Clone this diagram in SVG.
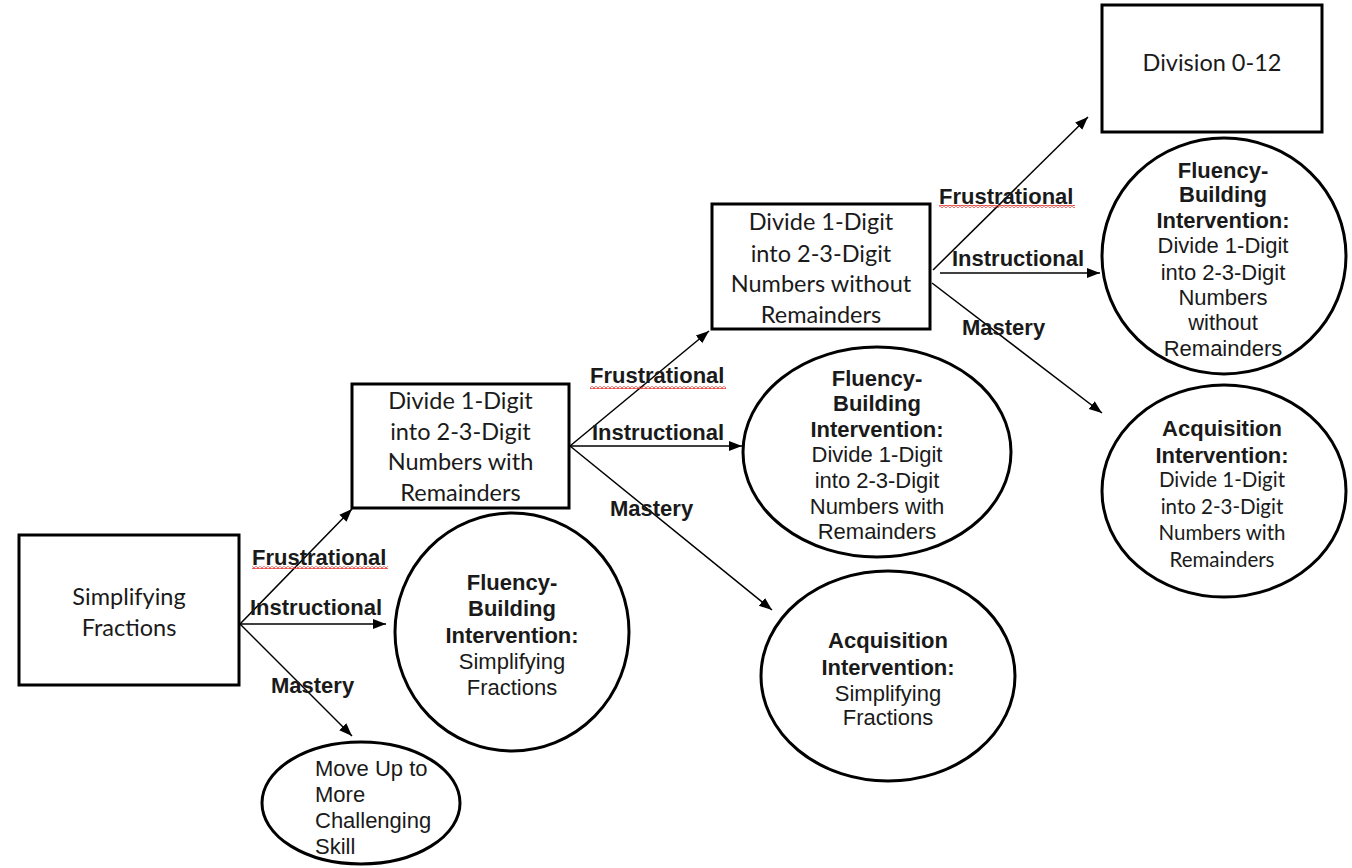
<svg xmlns="http://www.w3.org/2000/svg" width="1352" height="868" viewBox="0 0 1352 868">
<style>
.box{fill:#fff;stroke:#000;stroke-width:3}
.ell{fill:#fff;stroke:#000;stroke-width:3}
.bt{font-family:Lato,"Liberation Sans",sans-serif;font-size:23.5px;fill:#1a1a1a;text-anchor:middle}
.ct{font-family:"Liberation Sans",Arial,sans-serif;font-size:22px;fill:#1a1a1a;text-anchor:middle}
.cb{font-family:"Liberation Sans",Arial,sans-serif;font-size:22px;font-weight:bold;fill:#1a1a1a;text-anchor:middle}
.cl{font-family:Lato,"Liberation Sans",sans-serif;font-size:20.5px;fill:#1a1a1a;text-anchor:middle}
.lbl{font-family:"Liberation Sans",Arial,sans-serif;font-size:22px;font-weight:bold;fill:#1a1a1a}
.con{stroke:#000;stroke-width:1.5;fill:none;marker-end:url(#arr)}
.sq{fill:url(#squig)}
</style>
<defs>
<marker id="arr" markerUnits="userSpaceOnUse" markerWidth="14" markerHeight="12" refX="13" refY="6" orient="auto">
<path d="M0,1 L13,6 L0,11 Z" fill="#000"/>
</marker>
<pattern id="squig" patternUnits="userSpaceOnUse" x="0" y="0" width="4" height="3">
<path d="M0,2.4 L2,0.6 L4,2.4" fill="none" stroke="#e8302a" stroke-width="1.1"/>
</pattern>
</defs>
<rect width="1352" height="868" fill="#fff"/>

<g id="connectors">
<line class="con" x1="240" y1="624" x2="352" y2="509"/>
<line class="con" x1="240" y1="624" x2="386" y2="624"/>
<line class="con" x1="240" y1="624" x2="352" y2="736"/>
<line class="con" x1="570" y1="446" x2="709" y2="331"/>
<line class="con" x1="570" y1="446" x2="742" y2="446"/>
<line class="con" x1="570" y1="446" x2="772" y2="610"/>
<line class="con" x1="933" y1="270" x2="1088" y2="117"/>
<line class="con" x1="940" y1="273" x2="1100" y2="273"/>
<line class="con" x1="932" y1="283" x2="1102" y2="413"/>
</g>

<g id="labels">
<text class="lbl" x="252" y="565">Frustrational</text>
<rect class="sq" x="252" y="566" width="136" height="3"/>
<text class="lbl" x="250" y="615">Instructional</text>
<text class="lbl" x="271" y="693">Mastery</text>
<text class="lbl" x="590" y="383">Frustrational</text>
<rect class="sq" x="590" y="386" width="136" height="3"/>
<text class="lbl" x="592" y="440">Instructional</text>
<text class="lbl" x="610" y="516">Mastery</text>
<text class="lbl" x="939" y="204">Frustrational</text>
<rect class="sq" x="939" y="205" width="136" height="3"/>
<text class="lbl" x="952" y="266">Instructional</text>
<text class="lbl" x="962" y="335">Mastery</text>
</g>

<g id="simplifying-fractions">
<rect class="box" x="19" y="535" width="220" height="150"/>
<text class="bt" x="129" y="605">Simplifying</text>
<text class="bt" x="129" y="636">Fractions</text>
</g>

<g id="divide-with-remainders">
<rect class="box" x="352" y="384" width="217" height="124"/>
<text class="bt" x="460.5" y="409">Divide 1-Digit</text>
<text class="bt" x="460.5" y="440">into 2-3-Digit</text>
<text class="bt" x="460.5" y="470">Numbers with</text>
<text class="bt" x="460.5" y="501">Remainders</text>
</g>

<g id="divide-without-remainders">
<rect class="box" x="712" y="204" width="218" height="125"/>
<text class="bt" x="821" y="230">Divide 1-Digit</text>
<text class="bt" x="821" y="262">into 2-3-Digit</text>
<text class="bt" x="821" y="292">Numbers without</text>
<text class="bt" x="821" y="323">Remainders</text>
</g>

<g id="division-0-12">
<rect class="box" x="1102" y="5" width="220" height="127"/>
<text class="bt" x="1212" y="71">Division 0-12</text>
</g>

<g id="move-up">
<ellipse class="ell" cx="361" cy="803" rx="99" ry="61"/>
<text class="ct" x="315" y="776" style="text-anchor:start">Move Up to</text>
<text class="ct" x="315" y="802" style="text-anchor:start">More</text>
<text class="ct" x="315" y="828" style="text-anchor:start">Challenging</text>
<text class="ct" x="315" y="854" style="text-anchor:start">Skill</text>
</g>

<g id="fluency-simplifying">
<ellipse class="ell" cx="512" cy="632" rx="117" ry="119"/>
<text class="cb" x="512" y="590">Fluency-</text>
<text class="cb" x="512" y="616">Building</text>
<text class="cb" x="512" y="643">Intervention:</text>
<text class="ct" x="512" y="669">Simplifying</text>
<text class="ct" x="512" y="695">Fractions</text>
</g>

<g id="fluency-with-remainders">
<ellipse class="ell" cx="877" cy="452" rx="134" ry="105"/>
<text class="cb" x="877" y="386">Fluency-</text>
<text class="cb" x="877" y="411">Building</text>
<text class="cb" x="877" y="437">Intervention:</text>
<text class="ct" x="877" y="462">Divide 1-Digit</text>
<text class="ct" x="877" y="488">into 2-3-Digit</text>
<text class="ct" x="877" y="514">Numbers with</text>
<text class="ct" x="877" y="539">Remainders</text>
</g>

<g id="acquisition-simplifying">
<ellipse class="ell" cx="888" cy="676" rx="127" ry="105"/>
<text class="cb" x="888" y="648">Acquisition</text>
<text class="cb" x="888" y="675">Intervention:</text>
<text class="ct" x="888" y="701">Simplifying</text>
<text class="ct" x="888" y="725">Fractions</text>
</g>

<g id="fluency-without-remainders">
<ellipse class="ell" cx="1224" cy="256" rx="122" ry="118"/>
<text class="cb" x="1223" y="178">Fluency-</text>
<text class="cb" x="1223" y="202">Building</text>
<text class="cb" x="1223" y="228">Intervention:</text>
<text class="ct" x="1223" y="253">Divide 1-Digit</text>
<text class="ct" x="1223" y="280">into 2-3-Digit</text>
<text class="ct" x="1223" y="305">Numbers</text>
<text class="ct" x="1223" y="330">without</text>
<text class="ct" x="1223" y="356">Remainders</text>
</g>

<g id="acquisition-with-remainders">
<ellipse class="ell" cx="1224" cy="491" rx="122" ry="106"/>
<text class="cb" x="1222" y="436">Acquisition</text>
<text class="cb" x="1222" y="463">Intervention:</text>
<text class="cl" x="1222" y="487">Divide 1-Digit</text>
<text class="cl" x="1222" y="514">into 2-3-Digit</text>
<text class="cl" x="1222" y="540">Numbers with</text>
<text class="cl" x="1222" y="567">Remainders</text>
</g>
</svg>
